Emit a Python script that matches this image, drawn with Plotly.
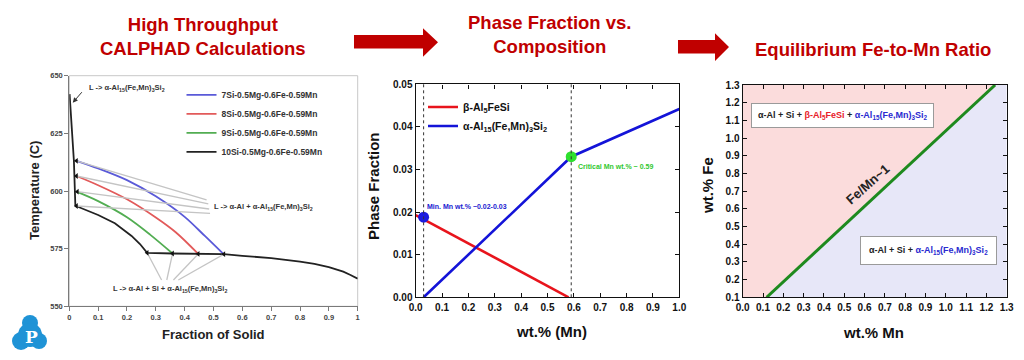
import plotly.graph_objects as go

# The page body keeps its default 8px margin, so the figure is sized to fit the
# 1024x360 window and all layout positions below are given in window pixels.
OFF = 8
W, H = 1024 - 2 * OFF, 360 - 2 * OFF
SANS = "Liberation Sans, Arial, sans-serif"
SERIF = "DejaVu Serif, Liberation Serif, serif"


def px(x):
    return (x - OFF) / W


def py(y):
    return 1 - (y - OFF) / H


# ---------------- data: panel 1 (solidification paths) ----------------
alloys = ["7Si-0.5Mg-0.6Fe-0.59Mn", "8Si-0.5Mg-0.6Fe-0.59Mn",
          "9Si-0.5Mg-0.6Fe-0.59Mn", "10Si-0.5Mg-0.6Fe-0.59Mn"]
alloy_colors = ["#5a5ad8", "#e25a5a", "#52ad52", "#222222"]

fs_7 = [0.025, 0.10, 0.20, 0.30, 0.40, 0.47, 0.534]
T_7 = [613.1, 609.8, 604.7, 597.7, 588.8, 580.5, 572.7]
fs_8 = [0.025, 0.10, 0.20, 0.30, 0.37, 0.447]
T_8 = [606.5, 602.5, 596.4, 588.5, 582.0, 572.7]
fs_9 = [0.025, 0.10, 0.20, 0.28, 0.358]
T_9 = [599.7, 595.6, 588.6, 581.1, 572.9]
fs_10 = [0.001, 0.016, 0.021, 0.025, 0.06, 0.10, 0.158, 0.216, 0.245, 0.27,
         0.358, 0.447, 0.536, 0.60, 0.70, 0.80, 0.85, 0.90, 0.95, 0.975, 1.00]
T_10 = [642.0, 613.0, 593.6, 593.4, 591.9, 589.6, 586.0, 580.5, 577.0, 573.2,
        572.9, 572.7, 572.6, 571.9, 570.9, 569.4, 568.4, 567.0, 565.0, 563.6, 562.0]

fs_start = [0.025, 0.025, 0.028, 0.025]
T_start = [613.1, 606.5, 599.7, 593.5]
fs_end = [0.27, 0.358, 0.447, 0.536]
T_end = [573.2, 572.9, 572.7, 572.6]

lead_top_x = [0.476, 0.482, 0.485, 0.488]
lead_top_y = [596.1, 594.4, 592.2, 590.3]
lead_bot_x = [0.320, 0.338, 0.361, 0.378]
lead_bot_y = [561.4, 561.4, 561.4, 561.4]

# ---------------- data: panel 2 (phase fraction vs Mn) ----------------
beta_mn = [0.0, 0.58]
beta_frac = [0.0193, 0.0]
alpha_mn = [0.03, 0.59, 1.0]
alpha_frac = [0.0, 0.033, 0.0442]
min_mn_point = [0.03, 0.0188]
crit_mn_point = [0.59, 0.033]
guide_mn = [0.03, 0.59]

# ---------------- data: panel 3 (Fe-to-Mn boundary) ----------------
bound_mn = [0.118, 1.243]
bound_fe = [0.1, 1.3]
mn_range = [0.0, 1.3]
fe_range = [0.1, 1.3]

fig = go.Figure()

# panel 1 curves
curves = [(fs_7, T_7), (fs_8, T_8), (fs_9, T_9), (fs_10, T_10)]
shapes_kind = ["spline", "spline", "spline", "linear"]
for name, col, (xs, ys), kind in zip(alloys, alloy_colors, curves, shapes_kind):
    fig.add_trace(go.Scatter(x=xs, y=ys, mode="lines", name=name,
                             line=dict(color=col, width=1.8, shape=kind, smoothing=0.9),
                             xaxis="x", yaxis="y", legend="legend"))

lx, ly = [], []
for x0, y0, x1, y1 in zip(fs_start, T_start, lead_top_x, lead_top_y):
    lx += [x0, x1, None]
    ly += [y0, y1, None]
for x0, y0, x1, y1 in zip(fs_end, T_end, lead_bot_x, lead_bot_y):
    lx += [x0, x1, None]
    ly += [y0, y1, None]
fig.add_trace(go.Scatter(x=lx, y=ly, mode="lines", showlegend=False,
                         line=dict(color="#c4c4c4", width=1.3),
                         xaxis="x", yaxis="y", hoverinfo="skip"))
fig.add_trace(go.Scatter(x=fs_start + fs_end, y=T_start + T_end, mode="markers",
                         showlegend=False,
                         marker=dict(symbol="triangle-left", size=5, color="#111"),
                         xaxis="x", yaxis="y"))

# panel 2
fig.add_trace(go.Scatter(x=beta_mn, y=beta_frac, mode="lines",
                         name="β-Al<sub>5</sub>FeSi",
                         line=dict(color="#e8141c", width=2.6),
                         xaxis="x2", yaxis="y2", legend="legend2"))
fig.add_trace(go.Scatter(x=alpha_mn, y=alpha_frac, mode="lines",
                         name="α-Al<sub>15</sub>(Fe,Mn)<sub>3</sub>Si<sub>2</sub>",
                         line=dict(color="#1414d8", width=2.6),
                         xaxis="x2", yaxis="y2", legend="legend2"))
fig.add_trace(go.Scatter(x=[min_mn_point[0]], y=[min_mn_point[1]], mode="markers",
                         showlegend=False, marker=dict(size=11, color="#1a1ae0"),
                         xaxis="x2", yaxis="y2"))
fig.add_trace(go.Scatter(x=[crit_mn_point[0]], y=[crit_mn_point[1]], mode="markers",
                         showlegend=False, marker=dict(size=11, color="#2ee02e"),
                         xaxis="x2", yaxis="y2"))

# panel 3 regions and boundary
fig.add_trace(go.Scatter(
    x=[mn_range[0], bound_mn[0], bound_mn[1], mn_range[0]],
    y=[fe_range[0], bound_fe[0], bound_fe[1], fe_range[1]],
    fill="toself", fillcolor="#fbdcdc", mode="lines", line=dict(width=0),
    showlegend=False, xaxis="x3", yaxis="y3", hoverinfo="skip"))
fig.add_trace(go.Scatter(
    x=[bound_mn[0], mn_range[1], mn_range[1], bound_mn[1]],
    y=[fe_range[0], fe_range[0], fe_range[1], bound_fe[1]],
    fill="toself", fillcolor="#e7e7f8", mode="lines", line=dict(width=0),
    showlegend=False, xaxis="x3", yaxis="y3", hoverinfo="skip"))
fig.add_trace(go.Scatter(x=bound_mn, y=bound_fe, mode="lines", showlegend=False,
                         line=dict(color="#1e8a1e", width=3),
                         xaxis="x3", yaxis="y3"))

# ---------------- axes ----------------
p1x = [px(69.3), px(357.7)]
p1y = [py(306.3), py(75.7)]
p2x = [px(415.7), px(679.3)]
p2y = [py(297.3), py(84.3)]
p3x = [px(742.7), px(1006.7)]
p3y = [py(297.3), py(85.0)]

tick1 = dict(family=SANS, size=7.5, color="#444", weight="bold")
tick23 = dict(family=SANS, size=10, color="#111", weight="bold")

x1_ticks = [0, 0.1, 0.2, 0.3, 0.4, 0.5, 0.6, 0.7, 0.8, 0.9, 1]
x1_labels = ["0", "0.1", "0.2", "0.3", "0.4", "0.5", "0.6", "0.7", "0.8", "0.9", "1"]
y1_ticks = [550, 575, 600, 625, 650]

common1 = dict(showgrid=False, zeroline=False, showline=True, linecolor="#7a7a7a",
               linewidth=1, ticks="outside", ticklen=4, tickcolor="#7a7a7a",
               tickfont=tick1)
common23 = dict(showgrid=False, zeroline=False, showline=True, linecolor="#111",
                linewidth=1.4, ticks="inside", ticklen=4, tickcolor="#111",
                mirror="ticks", tickfont=tick23)

fig.update_layout(
    width=W, height=H, autosize=False,
    margin=dict(l=0, r=0, t=0, b=0, autoexpand=False),
    paper_bgcolor="white", plot_bgcolor="white",
    xaxis=dict(domain=p1x, range=[0, 1], anchor="y", tickvals=x1_ticks,
               ticktext=x1_labels, **common1),
    yaxis=dict(domain=p1y, range=[550, 650], anchor="x", tickvals=y1_ticks, **common1),
    xaxis2=dict(domain=p2x, range=[0, 1], anchor="y2", dtick=0.1, tick0=0,
                tickformat=".1f", **common23),
    yaxis2=dict(domain=p2y, range=[0, 0.05], anchor="x2", dtick=0.01, tick0=0,
                tickformat=".2f", **common23),
    xaxis3=dict(domain=p3x, range=mn_range, anchor="y3", dtick=0.1, tick0=0,
                tickformat=".1f", layer="above traces", **common23),
    yaxis3=dict(domain=p3y, range=fe_range, anchor="x3", dtick=0.1, tick0=0.1,
                tickformat=".1f", layer="above traces", **common23),
    legend=dict(x=px(181.5), y=py(80.3), xanchor="left", yanchor="top",
                bgcolor="rgba(0,0,0,0)", borderwidth=0,
                font=dict(family=SANS, size=8.5, color="#333", weight="bold")),
    legend2=dict(x=px(423), y=py(92.5), xanchor="left", yanchor="top",
                 bgcolor="rgba(0,0,0,0)", borderwidth=0,
                 font=dict(family=SANS, size=10.5, color="#111", weight="bold")),
    showlegend=True,
)

# ---------------- shapes ----------------
shapes = []
shapes.append(dict(type="rect", xref="paper", yref="paper", x0=p1x[0], x1=p1x[1],
                   y0=p1y[0], y1=p1y[1], line=dict(color="#c8c8c8", width=1), layer="below"))
for g in guide_mn:
    shapes.append(dict(type="line", xref="x2", yref="y2 domain", x0=g, x1=g, y0=0, y1=1,
                       line=dict(color="#333", width=1, dash="dot")))


def arrow_path(x0, x1, xh, yb0, yb1, yh0, yh1, ytip):
    pts = [(x0, yb0), (xh, yb0), (xh, yh0), (x1, ytip), (xh, yh1), (xh, yb1), (x0, yb1)]
    return "M " + " L ".join(f"{px(a):.5f},{py(b):.5f}" for a, b in pts) + " Z"


shapes.append(dict(type="path", xref="paper", yref="paper",
                   path=arrow_path(354, 438, 423, 35, 48.5, 28.3, 56.7, 42.3),
                   fillcolor="#c00000", line=dict(width=0)))
shapes.append(dict(type="path", xref="paper", yref="paper",
                   path=arrow_path(678, 729, 715, 40, 53.5, 33.3, 61, 47),
                   fillcolor="#c00000", line=dict(width=0)))

for cx, cy, r in [(30, 323, 8), (21, 341, 9), (39, 341, 8), (30, 335, 12)]:
    shapes.append(dict(type="circle", xref="paper", yref="paper",
                       x0=px(cx - r), x1=px(cx + r), y0=py(cy + r), y1=py(cy - r),
                       fillcolor="#1f93d6", line=dict(width=0)))
fig.update_layout(shapes=shapes)

# ---------------- annotations ----------------
ann = []
C = dict(xref="paper", yref="paper", showarrow=False, xanchor="center", yanchor="middle")
TITLE = dict(family=SANS, size=18.5, color="#c00000", weight="bold")
ann.append(dict(text="High Throughput<br>CALPHAD Calculations", x=px(203), y=py(36),
                font=TITLE, **C))
ann.append(dict(text="Phase Fraction vs.<br>Composition", x=px(549), y=py(34),
                font=TITLE, **C))
ann.append(dict(text="Equilibrium Fe-to-Mn Ratio", x=px(873), y=py(49),
                font=TITLE, **C))

AX1 = dict(family=SANS, size=13, color="#222", weight="bold")
AX2 = dict(family=SANS, size=15, color="#111", weight="bold")
ann.append(dict(text="Temperature (C)", x=px(35), y=py(191), textangle=-90, font=AX1, **C))
ann.append(dict(text="Fraction of Solid", x=px(213), y=py(334), font=AX1, **C))
ann.append(dict(text="Phase Fraction", x=px(373), y=py(186), textangle=-90, font=AX2, **C))
ann.append(dict(text="wt.% (Mn)", x=px(551), y=py(331), font=AX2, **C))
ann.append(dict(text="wt.% Fe", x=px(707), y=py(186), textangle=-90, font=AX2, **C))
ann.append(dict(text="wt.% Mn", x=px(873), y=py(332), font=AX2, **C))

SMALL = dict(family=SANS, size=7.5, color="#333", weight="bold")
ALPHA = "α-Al<sub>15</sub>(Fe,Mn)<sub>3</sub>Si<sub>2</sub>"
ann.append(dict(text="L -> " + ALPHA, x=0.062, y=644.5, xref="x", yref="y",
                xanchor="left", yanchor="middle", showarrow=False, font=SMALL))
ann.append(dict(text="", x=0.012, y=638.3, ax=0.048, ay=643.5, axref="x", ayref="y",
                xref="x", yref="y", showarrow=True, arrowhead=2, arrowsize=1,
                arrowwidth=1, arrowcolor="#333"))
ann.append(dict(text="L -> α-Al + " + ALPHA, x=0.495, y=593, xref="x", yref="y",
                xanchor="left", yanchor="middle", showarrow=False, font=SMALL))
ann.append(dict(text="L -> α-Al + Si + " + ALPHA, x=0.349, y=557.4, xref="x", yref="y",
                xanchor="center", yanchor="middle", showarrow=False, font=SMALL))

ann.append(dict(text="Min. Mn wt.% ~0.02-0.03", x=0.035, y=0.0214, xref="x2", yref="y2",
                xanchor="left", yanchor="middle", showarrow=False,
                font=dict(family=SANS, size=7, color="#2020d0", weight="bold")))
ann.append(dict(text="Critical Mn wt.% ~ 0.59", x=0.607, y=0.0307, xref="x2", yref="y2",
                xanchor="left", yanchor="middle", showarrow=False,
                font=dict(family=SANS, size=7, color="#30c830", weight="bold")))

BOX = dict(family=SANS, size=9, color="#222", weight="bold")
ann.append(dict(text="α-Al + Si + <span style='color:#e8202a'>β-Al<sub>5</sub>FeSi</span> + "
                     "<span style='color:#2a2ad0'>" + ALPHA + "</span>",
                x=px(842.5), y=py(115), bgcolor="white", bordercolor="#9a9a9a",
                borderwidth=1, borderpad=6, font=BOX, **C))
ann.append(dict(text="α-Al + Si + <span style='color:#2a2ad0'>" + ALPHA + "</span>",
                x=px(928), y=py(250), bgcolor="white", bordercolor="#9a9a9a",
                borderwidth=1, borderpad=8, font=BOX, **C))
ann.append(dict(text="Fe/Mn~1", x=0.615, y=0.735, xref="x3", yref="y3", textangle=-41.5,
                xanchor="center", yanchor="middle", showarrow=False,
                font=dict(family=SANS, size=13, color="#222", weight="bold")))

ann.append(dict(text="P", x=px(31), y=py(337),
                font=dict(family=SERIF, size=17, color="white", weight="bold"), **C))
fig.update_layout(annotations=ann)

fig.write_html("out.html")
